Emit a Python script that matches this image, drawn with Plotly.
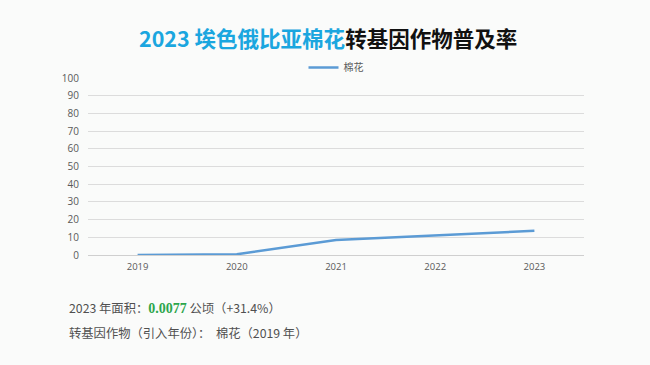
import plotly.graph_objects as go

years = ["2019", "2020", "2021", "2022", "2023"]
adoption = [0.0, 0.4, 8.5, 10.9, 13.7]
y_ticks = [0, 10, 20, 30, 40, 50, 60, 70, 80, 90, 100]

BG = "#fafbfa"
fig = go.Figure()
fig.add_trace(go.Scatter(
    x=years, y=adoption, mode="lines", name="棉花",
    line=dict(color="#5b9bd5", width=2.5),
))

fig.update_layout(
    width=650, height=365,
    paper_bgcolor=BG, plot_bgcolor=BG,
    margin=dict(l=88, r=66, t=78, b=110),
    showlegend=True,
    legend=dict(orientation="h", x=0.5, xanchor="center", y=1.06, yanchor="middle",
                font=dict(family="Noto Sans CJK SC", size=10, color="#595959"),
                bgcolor="rgba(0,0,0,0)"),
    font=dict(family="Noto Sans CJK SC", color="#595959"),
)
fig.update_xaxes(type="category", range=[-0.5, 4.5], showgrid=False, showline=False, ticks="",
                 tickfont=dict(family="Open Sans", size=9.5, color="#595959"),
                 zeroline=False, ticklabelstandoff=4)
fig.update_yaxes(range=[0, 100], tickvals=y_ticks, showgrid=True, gridcolor="#dcdcdc",
                 gridwidth=1, zeroline=True, zerolinecolor="#cfcfcf", zerolinewidth=1,
                 showline=False, ticks="", ticklabelstandoff=8,
                 tickfont=dict(family="Open Sans", size=10, color="#595959"))

fig.add_annotation(
    xref="paper", yref="paper", x=0.484, y=1.226, xanchor="center", yanchor="middle",
    showarrow=False,
    text="<b><span style='color:#1ba6df'>2023 埃色俄比亚棉花</span>"
         "<span style='color:#111111'>转基因作物普及率</span></b>",
    font=dict(family="Noto Sans CJK SC", size=21.5),
)
fig.add_annotation(
    xref="paper", yref="paper", x=-0.043, y=-0.30, xanchor="left", yanchor="middle",
    showarrow=False, align="left",
    text="2023 年面积：<span style='color:#2ca64c;font-family:Liberation Serif;font-size:14px'><b>0.0077</b></span> 公顷（+31.4%）",
    font=dict(family="Noto Sans CJK SC", size=12.3, color="#505050"),
)
fig.add_annotation(
    xref="paper", yref="paper", x=-0.043, y=-0.44, xanchor="left", yanchor="middle",
    showarrow=False, align="left",
    text="转基因作物（引入年份）：  棉花（2019 年）",
    font=dict(family="Noto Sans CJK SC", size=12.3, color="#505050"),
)

fig.write_html("out.html", config={"displayModeBar": False},
               post_script="document.body.style.margin='0';document.body.style.background='%s';" % BG)
